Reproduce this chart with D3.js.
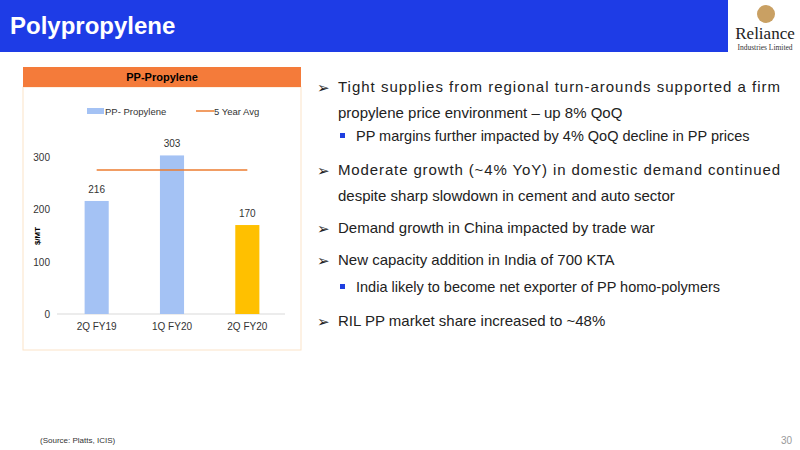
<!DOCTYPE html>
<html><head><meta charset="utf-8">
<script src="https://d3js.org/d3.v7.min.js"></script>
<style>body{margin:0;background:#fff;font-family:Arial,"Liberation Sans",sans-serif}</style>
</head><body>
<svg id="c" width="800" height="450"></svg>
<script>
// chart data
const categories = ["2Q FY19", "1Q FY20", "2Q FY20"];
const values = [216, 303, 170];
const avgValue = 275;
const yTicks = [0, 100, 200, 300];
const bullets = [
  {lvl: 0, lines: ["Tight supplies from regional turn-arounds supported a firm", "propylene price environment \u2013 up 8% QoQ"], just: true},
  {lvl: 1, lines: ["PP margins further impacted by 4% QoQ decline in PP prices"]},
  {lvl: 0, lines: ["Moderate growth (~4% YoY) in domestic demand continued", "despite sharp slowdown in cement and auto sector"], just: true},
  {lvl: 0, lines: ["Demand growth in China impacted by trade war"]},
  {lvl: 0, lines: ["New capacity addition in India of 700 KTA"]},
  {lvl: 1, lines: ["India likely to become net exporter of PP homo-polymers"]},
  {lvl: 0, lines: ["RIL PP market share increased to ~48%"]}
];
const bulletY = [92, 141, 175, 233, 265, 292, 326];

const svg = d3.select("#c");

// header
svg.append("rect").attr("x", 0).attr("y", 0).attr("width", 728).attr("height", 52).attr("fill", "#1e3ce6");
svg.append("text").attr("x", 10).attr("y", 34).attr("fill", "#fff").attr("font-size", 24).attr("font-weight", "bold").text("Polypropylene");

// logo
svg.append("circle").attr("cx", 766).attr("cy", 14).attr("r", 9).attr("fill", "#c9a063");
svg.append("text").attr("x", 765).attr("y", 39).attr("text-anchor", "middle").attr("font-family", "Liberation Serif, serif").attr("font-size", 17).attr("fill", "#222").text("Reliance");
svg.append("text").attr("x", 765).attr("y", 50).attr("text-anchor", "middle").attr("font-family", "Liberation Serif, serif").attr("font-size", 7.5).attr("fill", "#333").text("Industries Limited");

// chart panel
svg.append("rect").attr("x", 23).attr("y", 87).attr("width", 278).attr("height", 263).attr("fill", "#fff").attr("stroke", "#fbe3c8");
svg.append("rect").attr("x", 23).attr("y", 67).attr("width", 278).attr("height", 20).attr("fill", "#f47b3a");
svg.append("text").attr("x", 162).attr("y", 81).attr("text-anchor", "middle").attr("font-size", 11).attr("font-weight", "bold").text("PP-Propylene");

const x = d3.scaleBand().domain(categories).range([59, 285]).paddingInner(0.68).paddingOuter(0.34);
const y = d3.scaleLinear().domain([0, 300]).range([314, 157]);

const g = svg.append("g");
g.append("line").attr("x1", 57).attr("x2", 285).attr("y1", y(0)).attr("y2", y(0)).attr("stroke", "#d9d9d9");
g.selectAll(".yt").data(yTicks).join("text").attr("x", 50).attr("y", d => y(d) + 4)
  .attr("text-anchor", "end").attr("font-size", 10).attr("fill", "#333").text(d => d);
g.selectAll(".xt").data(categories).join("text").attr("x", d => x(d) + x.bandwidth() / 2).attr("y", 330)
  .attr("text-anchor", "middle").attr("font-size", 10).attr("fill", "#333").text(d => d);
g.append("text").attr("transform", "translate(40,236) rotate(-90)").attr("text-anchor", "middle")
  .attr("font-size", 8).attr("font-weight", "bold").text("$/MT");

g.selectAll(".bar").data(values).join("rect")
  .attr("x", (d, i) => x(categories[i])).attr("width", x.bandwidth())
  .attr("y", d => y(d)).attr("height", d => y(0) - y(d))
  .attr("fill", (d, i) => i === values.length - 1 ? "#ffc000" : "#a4c2f4");
g.selectAll(".lbl").data(values).join("text")
  .attr("x", (d, i) => x(categories[i]) + x.bandwidth() / 2).attr("y", d => y(d) - 8)
  .attr("text-anchor", "middle").attr("font-size", 10).attr("fill", "#333").text(d => d);
g.append("line").attr("x1", x(categories[0]) + x.bandwidth() / 2).attr("x2", x(categories[2]) + x.bandwidth() / 2)
  .attr("y1", y(avgValue)).attr("y2", y(avgValue)).attr("stroke", "#ed7d31").attr("stroke-width", 1.5);

// legend
svg.append("rect").attr("x", 87).attr("y", 108).attr("width", 17).attr("height", 6).attr("fill", "#a4c2f4");
svg.append("text").attr("x", 105).attr("y", 115).attr("font-size", 9.5).attr("fill", "#333").text("PP- Propylene");
svg.append("line").attr("x1", 196).attr("x2", 214).attr("y1", 111).attr("y2", 111).attr("stroke", "#ed7d31").attr("stroke-width", 1.5);
svg.append("text").attr("x", 214).attr("y", 115).attr("font-size", 9.5).attr("fill", "#333").text("5 Year Avg");

// bullets
bullets.forEach((b, k) => {
  const yy = bulletY[k];
  if (b.lvl === 0) {
    svg.append("text").attr("x", 317).attr("y", yy + 1).attr("font-size", 15).attr("fill", "#222").text("\u27A2");
  } else {
    svg.append("rect").attr("x", 340).attr("y", yy - 8).attr("width", 5).attr("height", 5).attr("fill", "#1f3fe0");
  }
  const tx = b.lvl === 0 ? 338 : 356;
  b.lines.forEach((l, i) => {
    const t = svg.append("text").attr("x", tx).attr("y", yy + i * 26).attr("font-size", b.lvl === 0 ? 15 : 14.5)
      .attr("fill", "#222").text(l);
    if (b.just && i === 0) t.attr("textLength", 442).attr("lengthAdjust", "spacing");
  });
});

svg.append("text").attr("x", 40).attr("y", 443).attr("font-size", 8).attr("fill", "#333").text("(Source: Platts, ICIS)");
svg.append("text").attr("x", 792).attr("y", 444).attr("text-anchor", "end").attr("font-size", 10).attr("fill", "#999").text("30");
</script>
</body></html>
